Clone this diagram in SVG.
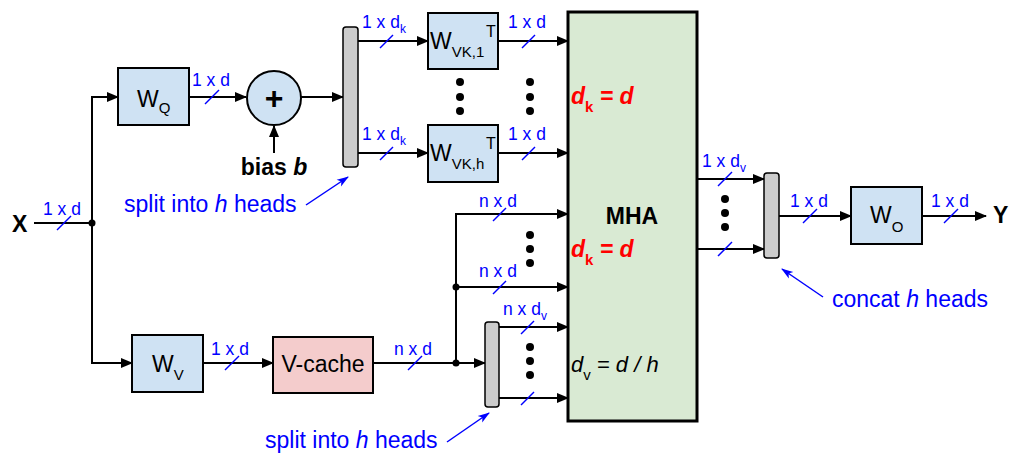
<svg xmlns="http://www.w3.org/2000/svg" width="1011" height="453" viewBox="0 0 1011 453">
<style>
.box{fill:#cfe2f3;stroke:#000;stroke-width:2}
.bar{fill:#cccccc;stroke:#000;stroke-width:1.5}
.ln{fill:none;stroke:#000;stroke-width:2}
.ar{fill:none;stroke:#000;stroke-width:2;marker-end:url(#ah)}
.bl{fill:none;stroke:#0000ff;stroke-width:1.5;marker-end:url(#bh)}
.sl{stroke:#0000ff;stroke-width:1.5}
text{font-family:"Liberation Sans",Arial,sans-serif}
.dim{font-size:17.5px;fill:#0000ff}
.ann{font-size:23px;fill:#0000ff}
.w{font-size:23px;fill:#000}
.sub{font-size:15px}
.dot{fill:#000}
</style>
<defs>
<marker id="ah" markerWidth="12" markerHeight="10" refX="11" refY="5" orient="auto" markerUnits="userSpaceOnUse"><path d="M0,0 L12,5 L0,10 Z" fill="#000"/></marker>
<marker id="bh" markerWidth="12" markerHeight="10" refX="11" refY="5" orient="auto" markerUnits="userSpaceOnUse"><path d="M0,1 L12,5 L0,9 L3,5 Z" fill="#0000ff"/></marker>
</defs>

<g id="connectors">
<line class="ln" x1="34" y1="223" x2="92" y2="223"/>
<polyline class="ar" points="92,223 92,97 118,97"/>
<polyline class="ar" points="92,223 92,363 132,363"/>
<line class="ar" x1="189" y1="97" x2="246" y2="97"/>
<line class="ar" x1="274" y1="153" x2="274" y2="126"/>
<line class="ar" x1="301" y1="97" x2="343" y2="97"/>
<line class="ar" x1="358" y1="41" x2="428" y2="41"/>
<line class="ar" x1="358" y1="153" x2="428" y2="153"/>
<line class="ar" x1="498" y1="41" x2="568" y2="41"/>
<line class="ar" x1="498" y1="153" x2="568" y2="153"/>
<line class="ar" x1="203" y1="363" x2="273" y2="363"/>
<line class="ar" x1="373" y1="363" x2="485" y2="363"/>
<polyline class="ar" points="456,363 456,214 568,214"/>
<line class="ar" x1="456" y1="287" x2="568" y2="287"/>
<line class="ar" x1="499" y1="327" x2="568" y2="327"/>
<line class="ar" x1="499" y1="398" x2="568" y2="398"/>
<line class="ar" x1="697" y1="179" x2="764" y2="179"/>
<line class="ar" x1="697" y1="249" x2="764" y2="249"/>
<line class="ar" x1="779" y1="216" x2="851" y2="216"/>
<line class="ar" x1="922" y1="216" x2="986" y2="216"/>
<circle class="dot" cx="92" cy="223" r="3.5"/>
<circle class="dot" cx="456" cy="287" r="3.5"/>
<circle class="dot" cx="456" cy="363" r="3.5"/>
<line class="sl" x1="57" y1="230" x2="71" y2="216"/>
<line class="sl" x1="205" y1="104" x2="219" y2="90"/>
<line class="sl" x1="380" y1="48" x2="393" y2="35"/>
<line class="sl" x1="380" y1="160" x2="393" y2="147"/>
<line class="sl" x1="522" y1="48" x2="535" y2="35"/>
<line class="sl" x1="522" y1="160" x2="535" y2="147"/>
<line class="sl" x1="493" y1="221" x2="506" y2="208"/>
<line class="sl" x1="493" y1="294" x2="506" y2="281"/>
<line class="sl" x1="521" y1="334" x2="534" y2="321"/>
<line class="sl" x1="521" y1="405" x2="534" y2="392"/>
<line class="sl" x1="225" y1="370" x2="239" y2="356"/>
<line class="sl" x1="408" y1="370" x2="422" y2="356"/>
<line class="sl" x1="718" y1="186" x2="732" y2="172"/>
<line class="sl" x1="718" y1="256" x2="732" y2="242"/>
<line class="sl" x1="803" y1="223" x2="817" y2="209"/>
<line class="sl" x1="944" y1="223" x2="958" y2="209"/>
<line class="bl" x1="306" y1="205" x2="348" y2="177"/>
<line class="bl" x1="447" y1="442" x2="489" y2="413"/>
<line class="bl" x1="823" y1="297" x2="782" y2="269"/>
</g>

<g id="labels">
<text class="dim" x="43" y="215">1 x d</text>
<text class="dim" x="192" y="86">1 x d</text>
<text class="dim" x="362" y="28">1 x d<tspan font-size="12" dy="5">k</tspan></text>
<text class="dim" x="362" y="140">1 x d<tspan font-size="12" dy="5">k</tspan></text>
<text class="dim" x="508" y="28">1 x d</text>
<text class="dim" x="508" y="140">1 x d</text>
<text class="dim" x="479" y="207">n x d</text>
<text class="dim" x="479" y="277">n x d</text>
<text class="dim" x="503" y="315">n x d<tspan font-size="12" dy="5">v</tspan></text>
<text class="dim" x="211" y="355">1 x d</text>
<text class="dim" x="394" y="355">n x d</text>
<text class="dim" x="702" y="167">1 x d<tspan font-size="12" dy="5">v</tspan></text>
<text class="dim" x="790" y="207">1 x d</text>
<text class="dim" x="931" y="207">1 x d</text>
<text class="ann" x="124" y="212">split into <tspan font-style="italic">h</tspan> heads</text>
<text class="ann" x="265" y="448">split into <tspan font-style="italic">h</tspan> heads</text>
<text class="ann" x="832" y="307">concat <tspan font-style="italic">h</tspan> heads</text>
<text x="12" y="232" font-size="23" font-weight="bold">X</text>
<text x="993" y="223" font-size="23" font-weight="bold">Y</text>
<text x="274" y="175" font-size="23" font-weight="bold" text-anchor="middle">bias <tspan font-style="italic">b</tspan></text>
</g>

<g id="node-WQ">
<rect class="box" x="118" y="68" width="71" height="57"/>
<text class="w" x="137" y="107">W<tspan class="sub" dy="6">Q</tspan></text>
</g>
<g id="node-plus">
<circle cx="274" cy="98" r="27" fill="#cfe2f3" stroke="#000" stroke-width="2"/>
<text x="274" y="109" font-size="32" font-weight="bold" text-anchor="middle">+</text>
</g>
<g id="node-split1">
<rect class="bar" x="343" y="27" width="15" height="140" rx="3"/>
</g>
<g id="node-WVK1">
<rect class="box" x="428" y="13" width="70" height="56"/>
<text class="w" x="430" y="49" font-size="26">W<tspan class="sub" dy="8">VK,1</tspan></text>
<text x="486" y="37" font-size="16">T</text>
</g>
<g id="node-WVKh">
<rect class="box" x="428" y="125" width="70" height="57"/>
<text class="w" x="430" y="161" font-size="26">W<tspan class="sub" dy="8">VK,h</tspan></text>
<text x="486" y="149" font-size="16">T</text>
</g>
<g id="dots">
<circle class="dot" cx="460" cy="82" r="4"/><circle class="dot" cx="460" cy="97" r="4"/><circle class="dot" cx="460" cy="111" r="4"/>
<circle class="dot" cx="530" cy="82" r="4"/><circle class="dot" cx="530" cy="97" r="4"/><circle class="dot" cx="530" cy="111" r="4"/>
<circle class="dot" cx="530" cy="235" r="4"/><circle class="dot" cx="530" cy="249" r="4"/><circle class="dot" cx="530" cy="263" r="4"/>
<circle class="dot" cx="530" cy="347" r="4"/><circle class="dot" cx="530" cy="361" r="4"/><circle class="dot" cx="530" cy="375" r="4"/>
<circle class="dot" cx="725" cy="199" r="4"/><circle class="dot" cx="725" cy="213" r="4"/><circle class="dot" cx="725" cy="227" r="4"/>
</g>
<g id="node-WV">
<rect class="box" x="132" y="335" width="71" height="57"/>
<text class="w" x="152" y="372">W<tspan class="sub" dy="8">V</tspan></text>
</g>
<g id="node-Vcache">
<rect x="273" y="337" width="100" height="56" fill="#f4cccc" stroke="#000" stroke-width="2"/>
<text class="w" x="323" y="372" text-anchor="middle">V-cache</text>
</g>
<g id="node-split2">
<rect class="bar" x="485" y="322" width="14" height="85" rx="3"/>
</g>
<g id="node-MHA">
<rect x="568" y="12" width="129" height="409" fill="#d9ead3" stroke="#000" stroke-width="3"/>
<text x="632" y="224" font-size="23" font-weight="bold" text-anchor="middle">MHA</text>
<text x="571" y="104" font-size="23" font-weight="bold" font-style="italic" fill="#ff0000">d<tspan font-size="15" font-style="normal" dy="8">k</tspan><tspan dy="-8"> = d</tspan></text>
<text x="571" y="257" font-size="23" font-weight="bold" font-style="italic" fill="#ff0000">d<tspan font-size="15" font-style="normal" dy="8">k</tspan><tspan dy="-8"> = d</tspan></text>
<text x="571" y="372" font-size="22" font-style="italic" fill="#000">d<tspan font-size="15" font-style="normal" dy="8">v</tspan><tspan dy="-8"> = d / h</tspan></text>
</g>
<g id="node-concat">
<rect class="bar" x="764" y="173" width="15" height="85" rx="3"/>
</g>
<g id="node-WO">
<rect class="box" x="851" y="187" width="71" height="57"/>
<text class="w" x="870" y="223">W<tspan class="sub" dy="9">O</tspan></text>
</g>
</svg>
